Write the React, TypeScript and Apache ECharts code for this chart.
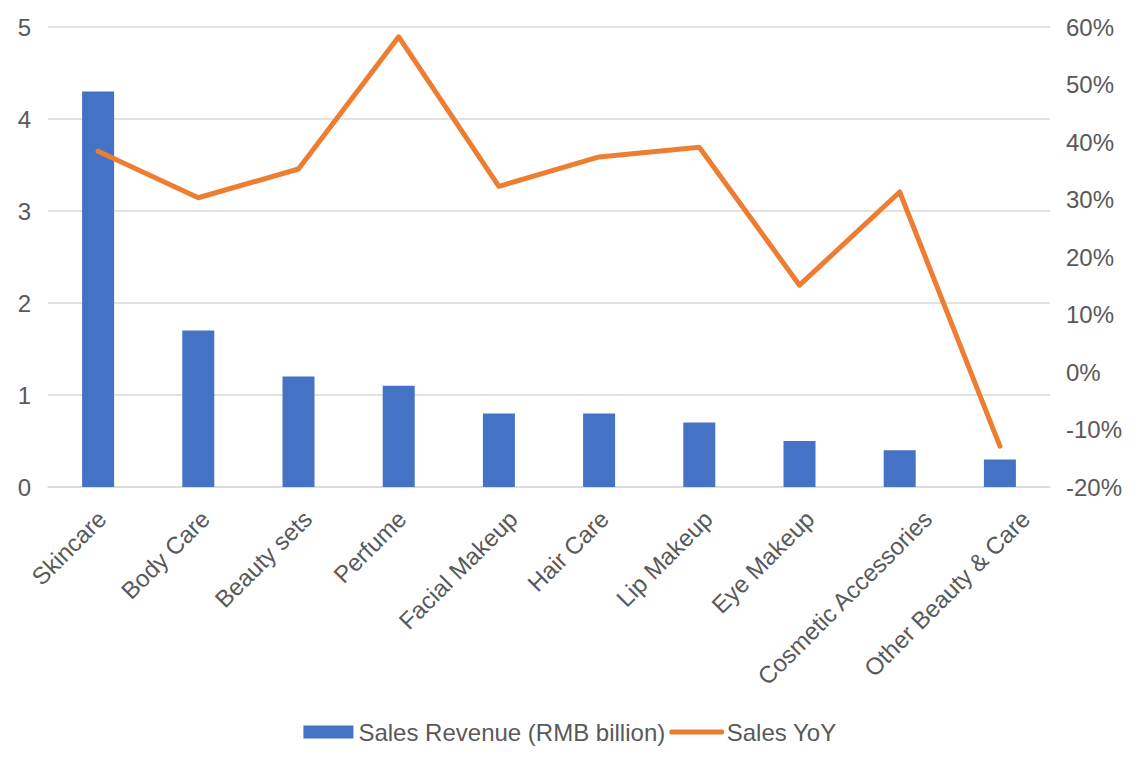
import React, { useEffect, useRef } from "react";
import * as echarts from "echarts";

const categories = [
  "Skincare",
  "Body Care",
  "Beauty sets",
  "Perfume",
  "Facial Makeup",
  "Hair Care",
  "Lip Makeup",
  "Eye Makeup",
  "Cosmetic Accessories",
  "Other Beauty & Care",
];
const revenue = [4.3, 1.7, 1.2, 1.1, 0.8, 0.8, 0.7, 0.5, 0.4, 0.3];
const yoy = [38.4, 30.3, 35.3, 58.3, 32.3, 37.4, 39.1, 15.1, 31.3, -12.9];

const FONT = "'Liberation Sans', Arial, Helvetica, sans-serif";
const TEXT = "#595959";
const FONT_SIZE = 24;

function measure(text: string): number {
  const ctx = document.createElement("canvas").getContext("2d");
  if (!ctx) return text.length * FONT_SIZE * 0.5;
  ctx.font = `${FONT_SIZE}px 'Liberation Sans', Arial, sans-serif`;
  return ctx.measureText(text).width;
}

// Rotated category labels: the end of each label moves right along the axis
// in proportion to its length, done with padding on the rotated text box
// (negative right padding moves it along the text, top padding across it).
function categoryItems() {
  return categories.map((name) => {
    const dx = 0.17 * measure(name) - 9;
    const s = dx / Math.SQRT2;
    return {
      value: name,
      textStyle: { verticalAlign: "top", padding: [s - 18, -(s + 1.5), 0, 0] },
    };
  });
}

export default function App() {
  const ref = useRef<HTMLDivElement>(null);
  useEffect(() => {
    if (!ref.current) return;
    const chart = echarts.init(ref.current, undefined, { renderer: "svg" });
    chart.setOption({
      animation: false,
      textStyle: { fontFamily: FONT },
      grid: { left: 40, right: 82, top: 19, bottom: 275, containLabel: false },
      legend: {
        top: 707,
        left: "center",
        itemWidth: 50,
        itemHeight: 13,
        itemGap: 4,
        textStyle: { fontSize: FONT_SIZE, color: TEXT, fontFamily: FONT },
        data: [
          { name: "Sales Revenue (RMB billion)", icon: "rect" },
          {
            name: "Sales YoY",
            itemStyle: { opacity: 0 },
            lineStyle: { width: 5, cap: "round", color: "#ed7d31" },
          },
        ],
      },
      xAxis: {
        type: "category",
        data: categoryItems(),
        axisLine: { lineStyle: { color: "#d9d9d9", width: 1.5 } },
        axisTick: { show: false },
        axisLabel: {
          rotate: 45,
          interval: 0,
          margin: 33,
          fontSize: FONT_SIZE,
          lineHeight: 24,
          color: TEXT,
          fontFamily: FONT,
        },
      },
      yAxis: [
        {
          type: "value",
          min: 0,
          max: 5,
          interval: 1,
          axisLine: { show: false },
          axisTick: { show: false },
          splitLine: { lineStyle: { color: "#d9d9d9", width: 1.5 } },
          axisLabel: { fontSize: FONT_SIZE, color: TEXT, margin: 17, fontFamily: FONT },
        },
        {
          type: "value",
          min: -20,
          max: 60,
          interval: 10,
          axisLine: { show: false },
          axisTick: { show: false },
          splitLine: { show: false },
          axisLabel: {
            fontSize: FONT_SIZE,
            color: TEXT,
            margin: 16,
            fontFamily: FONT,
            formatter: "{value}%",
          },
        },
      ],
      series: [
        {
          name: "Sales Revenue (RMB billion)",
          type: "bar",
          data: revenue,
          barWidth: 32,
          itemStyle: { color: "#4472c4" },
        },
        {
          name: "Sales YoY",
          type: "line",
          yAxisIndex: 1,
          data: yoy,
          symbol: "none",
          lineStyle: { color: "#ed7d31", width: 5, join: "round", cap: "round" },
          itemStyle: { color: "#ed7d31" },
        },
      ],
    });
    return () => chart.dispose();
  }, []);
  return <div ref={ref} style={{ width: 1124, height: 754 }} />;
}
